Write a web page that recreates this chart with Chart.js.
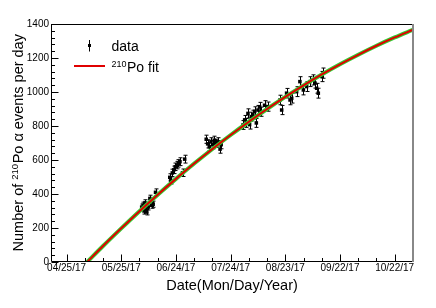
<!DOCTYPE html>
<html>
<head>
<meta charset="utf-8">
<script src="https://cdn.jsdelivr.net/npm/chart.js@4.4.1/dist/chart.umd.min.js"></script>
<style>
    html, body { margin: 0; padding: 0; background: #fff; }
    #wrap { width: 436px; height: 308px; }
</style>
</head>
<body>
<div id="wrap"><canvas id="poChart" width="436" height="308"></canvas></div>
<script>
// 기준일: 04/25/17 (x 값 = 기준일로부터 경과일)
const startDate = Date.UTC(2017, 3, 25);

// 측정 데이터 (경과일, 일별 이벤트 수, 오차)
const dataDays = [
    41.2, 42.0, 42.5, 43.0, 43.5, 44.0, 44.8, 45.7, 46.7, 47.5, 48.8,
    56.6, 57.2, 58.0, 58.8, 59.6, 60.4, 61.3, 62.2, 63.6, 64.8,
    76.6, 77.4, 78.3, 79.2, 80.1, 81.0, 81.9, 83.1, 84.2, 84.8,
    96.8, 97.7, 98.6, 99.5, 100.4, 101.3, 102.2, 103.2, 104.1, 105.0, 105.9, 106.8, 108.6, 110.4,
    117.1, 118.0, 120.7, 122.6, 123.5, 126.2, 128.0, 129.9, 131.7, 133.5, 135.3, 136.3, 137.2, 138.1, 140.0, 140.8
];
const dataCounts = [
    323, 334, 300, 348, 306, 295, 324, 374, 334, 340, 410,
    498, 480, 524, 542, 560, 570, 580, 590, 525, 605,
    722, 695, 678, 707, 690, 716, 698, 707, 664, 690,
    806, 836, 818, 874, 808, 855, 866, 886, 818, 894, 912, 884, 922, 914,
    953, 894, 993, 953, 963, 1002, 1061, 1012, 1032, 1061, 1071, 1052, 1022, 993, 1091, 1111
];
const dataErrors = [
    18, 18, 18, 18, 18, 18, 18, 19, 18, 18, 20,
    21, 21, 22, 22, 22, 22, 22, 23, 22, 23,
    24, 24, 24, 24, 24, 24, 24, 24, 24, 24,
    26, 26, 26, 27, 26, 26, 27, 27, 26, 27, 27, 27, 27, 27,
    28, 27, 28, 28, 28, 29, 29, 29, 29, 29, 30, 29, 29, 29, 30, 30
];

// 210Po 피팅 곡선
const fitDays = [11.3, 20, 30, 40, 50, 60, 70, 80, 90, 100, 110, 120, 130, 140, 150, 160, 170, 180, 190];
const fitCounts = [0, 94, 198, 299, 396, 489, 579, 665, 747, 825, 900, 971, 1039, 1103, 1163, 1219, 1272, 1321, 1366];

// 축 눈금
const xLabelDays = [0, 30, 60, 90, 120, 150, 180];
const xMinorDays = [0, 10, 20, 30, 40, 50, 60, 70, 80, 90, 100, 110, 120, 130, 140, 150, 160, 170, 180];
const yTicks = [0, 200, 400, 600, 800, 1000, 1200, 1400];

const FONT = '"Liberation Sans", Arial, Helvetica, sans-serif';

function fmtDate(v) {
    const d = new Date(startDate + v * 86400000);
    const mm = String(d.getUTCMonth() + 1).padStart(2, '0');
    const dd = String(d.getUTCDate()).padStart(2, '0');
    const yy = String(d.getUTCFullYear()).slice(2);
    return mm + '/' + dd + '/' + yy;
}

// 오차 막대
const errorBars = {
    id: 'errorBars',
    beforeDatasetsDraw(chart) {
        const ctx = chart.ctx;
        const xs = chart.scales.x, ys = chart.scales.y;
        ctx.save();
        ctx.strokeStyle = '#000';
        ctx.lineWidth = 1;
        dataDays.forEach(function(d, i) {
            const px = Math.round(xs.getPixelForValue(d)) + 0.5;
            const top = ys.getPixelForValue(dataCounts[i] + dataErrors[i]);
            const bot = ys.getPixelForValue(dataCounts[i] - dataErrors[i]);
            ctx.beginPath();
            ctx.moveTo(px, top); ctx.lineTo(px, bot);
            ctx.moveTo(px - 2, top); ctx.lineTo(px + 2, top);
            ctx.moveTo(px - 2, bot); ctx.lineTo(px + 2, bot);
            ctx.stroke();
        });
        ctx.restore();
    }
};

// ROOT 스타일 프레임, 눈금, 범례, 축 제목
const rootFrame = {
    id: 'rootFrame',
    afterDraw(chart) {
        const ctx = chart.ctx;
        const a = chart.chartArea;
        const xs = chart.scales.x, ys = chart.scales.y;
        ctx.save();

        // 프레임
        ctx.lineWidth = 1;
        ctx.strokeStyle = '#000';
        ctx.beginPath();
        ctx.moveTo(a.left - 0.5, a.top + 0.5);
        ctx.lineTo(a.right, a.top + 0.5);
        ctx.moveTo(a.left - 0.5, a.top);
        ctx.lineTo(a.left - 0.5, a.bottom - 0.5);
        ctx.lineTo(a.right + 1, a.bottom - 0.5);
        ctx.stroke();
        ctx.strokeStyle = '#888';
        ctx.lineWidth = 2;
        ctx.beginPath();
        ctx.moveTo(a.right + 1, a.top);
        ctx.lineTo(a.right + 1, a.bottom);
        ctx.stroke();

        // x 눈금 (안쪽)
        ctx.strokeStyle = '#000';
        ctx.lineWidth = 1;
        ctx.beginPath();
        xMinorDays.forEach(function(v) {
            const px = Math.round(xs.getPixelForValue(v)) + 0.5;
            const len = xLabelDays.includes(v) ? 7 : 3.5;
            ctx.moveTo(px, a.bottom - 0.5);
            ctx.lineTo(px, a.bottom - 0.5 - len);
        });
        // y 눈금 (안쪽)
        for (let v = 0; v <= 1400; v += 40) {
            const py = Math.round(ys.getPixelForValue(v)) + 0.5;
            const len = v % 200 === 0 ? 7 : 3.5;
            ctx.moveTo(a.left - 0.5, py);
            ctx.lineTo(a.left - 0.5 + len, py);
        }
        ctx.stroke();

        // 범례
        ctx.fillStyle = '#000';
        ctx.beginPath();
        ctx.moveTo(89.5, 40); ctx.lineTo(89.5, 51.5);
        ctx.stroke();
        ctx.fillRect(88, 44, 3, 3);
        ctx.font = '14px ' + FONT;
        ctx.textAlign = 'left';
        ctx.textBaseline = 'alphabetic';
        ctx.fillText('data', 111.5, 50.7);

        ctx.strokeStyle = '#e00000';
        ctx.lineWidth = 2;
        ctx.beginPath();
        ctx.moveTo(74, 66); ctx.lineTo(105, 66);
        ctx.stroke();
        ctx.font = '9px ' + FONT;
        ctx.fillText('210', 111.5, 66.5);
        const supW = ctx.measureText('210').width;
        ctx.font = '14px ' + FONT;
        ctx.fillText('Po fit', 111.5 + supW + 0.5, 71.7);

        // x 축 제목
        ctx.font = '14.5px ' + FONT;
        ctx.textAlign = 'center';
        ctx.fillText('Date(Mon/Day/Year)', (a.left + a.right) / 2, 290);

        // y 축 제목 (회전)
        ctx.translate(23.3, (a.top + a.bottom) / 2);
        ctx.rotate(-Math.PI / 2);
        ctx.textAlign = 'left';
        const p1 = 'Number of ', p2 = '210', p3 = 'Po \u03b1 events per day';
        ctx.font = '14.5px ' + FONT;
        const w1 = ctx.measureText(p1).width, w3 = ctx.measureText(p3).width;
        ctx.font = '9.5px ' + FONT;
        const w2 = ctx.measureText(p2).width;
        let x0 = -(w1 + w2 + w3) / 2;
        ctx.font = '14.5px ' + FONT;
        ctx.fillText(p1, x0, 0);
        ctx.font = '9.5px ' + FONT;
        ctx.fillText(p2, x0 + w1, -5.5);
        ctx.font = '14.5px ' + FONT;
        ctx.fillText(p3, x0 + w1 + w2 + 0.5, 0);

        ctx.restore();
    }
};

function createPoChart() {
    const ctx = document.getElementById('poChart').getContext('2d');
    const fitPoints = fitDays.map((d, i) => ({ x: d, y: fitCounts[i] }));

    new Chart(ctx, {
        type: 'scatter',
        data: {
            datasets: [{
                type: 'line',
                label: '210Po fit',
                data: fitPoints,
                borderColor: '#e00000',
                borderWidth: 2,
                pointRadius: 0,
                cubicInterpolationMode: 'monotone',
                order: 0
            }, {
                type: 'line',
                label: 'band',
                data: fitPoints,
                borderColor: '#33cc33',
                borderWidth: 4,
                pointRadius: 0,
                cubicInterpolationMode: 'monotone',
                order: 1
            }, {
                label: 'data',
                data: dataDays.map((d, i) => ({ x: d, y: dataCounts[i] })),
                pointStyle: 'rect',
                pointRadius: 2.5,
                backgroundColor: '#000',
                borderWidth: 0,
                order: 2
            }]
        },
        options: {
            responsive: false,
            animation: false,
            layout: {
                padding: { left: 0, top: 24, right: 24, bottom: 0 }
            },
            plugins: {
                legend: { display: false },
                tooltip: { enabled: false }
            },
            scales: {
                x: {
                    type: 'linear',
                    min: -8,
                    max: 189.5,
                    grid: { display: false, drawTicks: false },
                    border: { display: false },
                    afterBuildTicks: function(s) {
                        s.ticks = xLabelDays.map(v => ({ value: v }));
                    },
                    afterFit: function(s) { s.height = 46; },
                    ticks: {
                        autoSkip: false,
                        maxRotation: 0,
                        padding: 0,
                        color: '#000',
                        font: { family: FONT, size: 10 },
                        callback: function(value) { return fmtDate(value); }
                    }
                },
                y: {
                    type: 'linear',
                    min: 0,
                    max: 1400,
                    grid: { display: false, drawTicks: false },
                    border: { display: false },
                    afterBuildTicks: function(s) {
                        s.ticks = yTicks.map(v => ({ value: v }));
                    },
                    afterFit: function(s) { s.width = 52; },
                    ticks: {
                        padding: 3,
                        color: '#000',
                        font: { family: FONT, size: 10 },
                        callback: function(value) { return String(value); }
                    }
                }
            }
        },
        plugins: [errorBars, rootFrame]
    });
}

document.addEventListener('DOMContentLoaded', function() {
    createPoChart();
});
</script>
</body>
</html>
